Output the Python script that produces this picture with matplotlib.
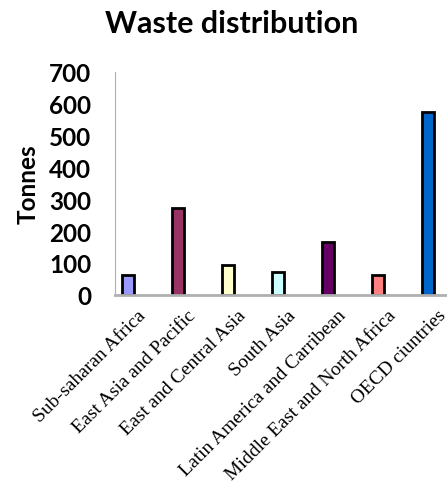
import matplotlib
matplotlib.use("Agg")
import matplotlib.pyplot as plt
import matplotlib.transforms as mtransforms

# values
regions = ["Sub-saharan Africa", "East Asia and Pacific", "East and Central Asia",
           "South Asia", "Latin America and Carribean", "Middle East and North Africa",
           "OECD ciuntries"]
tonnes = [63, 272, 95, 73, 165, 63, 573]
colors = ["#9999FF", "#993366", "#FFFFCC", "#CCFFFF", "#660066", "#FF8080", "#0066CC"]
yticks = [0, 100, 200, 300, 400, 500, 600, 700]

fig = plt.figure(figsize=(4.47, 4.89), dpi=100)
ax = fig.add_axes([0.257, 0.395, 0.743, 0.456])

x = list(range(len(regions)))
ax.bar(x, tonnes, width=0.24, color=colors, edgecolor="black", linewidth=2)

ax.set_xlim(-0.26, 6.38)
ax.set_ylim(0, 700)
ax.set_yticks(yticks)
ax.set_yticklabels([str(v) for v in yticks], fontfamily="Lato", fontweight="bold", fontsize=17.5)
ax.tick_params(axis="y", length=0, pad=17)
ax.tick_params(axis="x", length=0, pad=8.5)

ax.set_xticks(x)
ax.set_xticklabels(regions, rotation=45, ha="right", va="top", rotation_mode="anchor",
                   fontfamily="Liberation Serif", fontsize=14)
# shift labels slightly right, like the original
offset = mtransforms.ScaledTranslation(9 / 100, 0, fig.dpi_scale_trans)
for lbl in ax.get_xticklabels():
    lbl.set_transform(lbl.get_transform() + offset)

for side in ["top", "right"]:
    ax.spines[side].set_visible(False)
ax.spines["left"].set_color("#b0b0b0")
ax.spines["left"].set_linewidth(0.8)
ax.spines["bottom"].set_color("#b0b0b0")
ax.spines["bottom"].set_linewidth(2)

ax.set_ylabel("Tonnes", fontfamily="Lato", fontweight="bold", fontsize=17.5, labelpad=7)
fig.text(0.519, 0.951, "Waste distribution", ha="center", va="center",
         fontfamily="Lato", fontweight="bold", fontsize=22)

fig.savefig("out.png", dpi=100)
